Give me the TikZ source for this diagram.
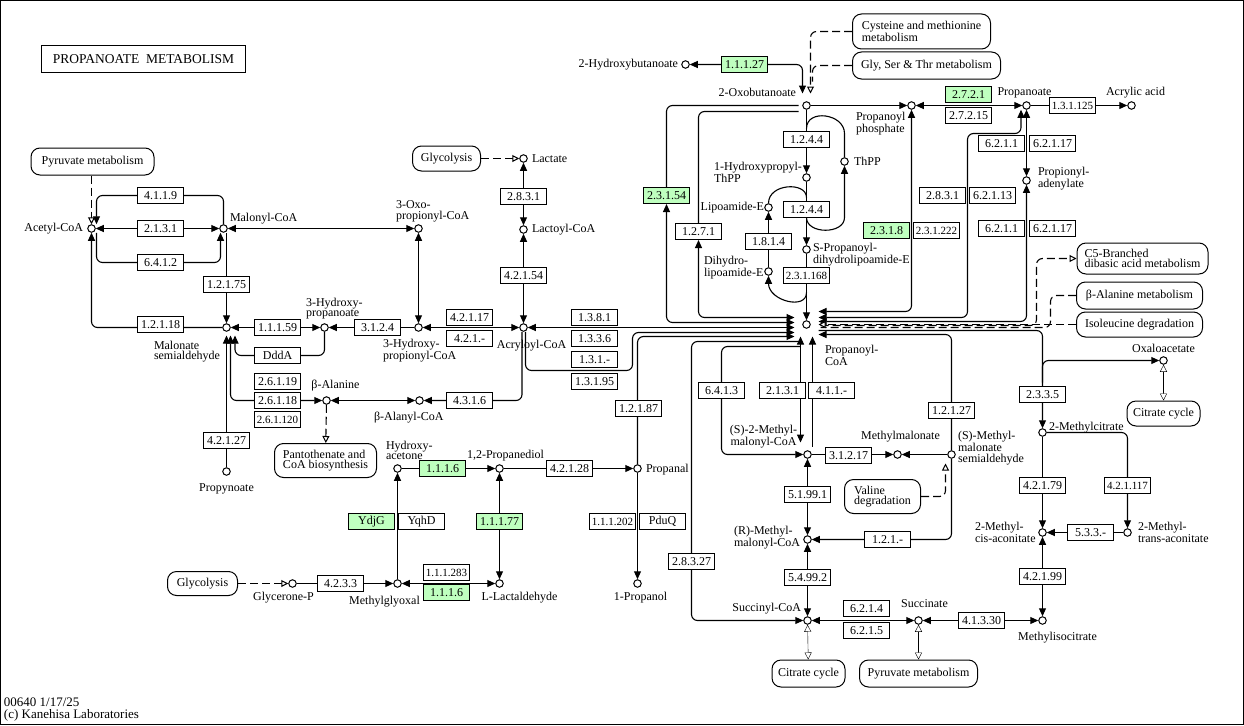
\documentclass[tikz,border=0pt]{standalone}
\usepackage{fontspec}
\setmainfont{Liberation Serif}
\usepackage{tikz}
\usetikzlibrary{arrows.meta,backgrounds,calc}
\definecolor{keggreen}{HTML}{BFFFBF}
\tikzset{
  cpd/.style={circle,draw,fill=white,minimum size=7.5pt,inner sep=0pt},
  ec/.style={draw,fill=white,minimum width=46pt,minimum height=16pt,inner sep=0pt},
  ecg/.style={ec,fill=keggreen},
  pmap/.style={draw,fill=white,rounded corners=9pt,inner sep=0pt,align=center},
  txt/.style={inner sep=0pt,align=left},
  dsh/.style={line width=1.1pt,dash pattern=on 8pt off 4pt},
  mapto/.style={dsh,-{Triangle[open,length=7pt,width=7pt,fill=white,line width=1pt]}},
  mapboth/.style={{Triangle[open,length=7pt,width=7pt,fill=white]}-{Triangle[open,length=7pt,width=7pt,fill=white]}},
  rc/.style={rounded corners=6pt,line width=1.1pt},
  arc/.style={line width=1.1pt},
  >={Triangle[length=8pt,width=7pt,line width=1pt]}
}
\begin{document}
\begin{tikzpicture}[x=1pt,y=-1pt,line width=1pt,font=\fontsize{12}{10.5}\selectfont]
\useasboundingbox (-0.5,-0.5) rectangle (1243.5,724.5);
\draw (0,0) rectangle (1243,724);
\node[draw,minimum width=204pt,minimum height=27pt,inner sep=0pt,font=\fontsize{13.5}{13}\selectfont] (title) at (143,59) {PROPANOATE\ \ METABOLISM};
\node[txt,anchor=west,font=\fontsize{13}{11.5}\selectfont] (footer) at (3,709) {00640 1/17/25\\(c) Kanehisa Laboratories};

% compounds
\node[cpd] (acetyl) at (91,228) {};
\node[cpd] (malonyl) at (223,228) {};
\node[cpd] (oxoprop) at (418,228) {};
\node[cpd] (lactate) at (523,158) {};
\node[cpd] (lactoyl) at (523,229) {};
\node[cpd] (acryloyl) at (523,327) {};
\node[cpd] (hppcoa) at (418,327) {};
\node[cpd] (hpa) at (324,327) {};
\node[cpd] (msa) at (226,327) {};
\node[cpd] (bala) at (326,400) {};
\node[cpd] (balcoa) at (419,400) {};
\node[cpd] (propynoate) at (226,471) {};
\node[cpd] (hacetone) at (397,468) {};
\node[cpd] (pdiol) at (499,468) {};
\node[cpd] (propanal) at (637,468) {};
\node[cpd] (gap) at (292,583) {};
\node[cpd] (mgo) at (397,583) {};
\node[cpd] (lald) at (499,583) {};
\node[cpd] (propanol) at (637,583) {};
\node[cpd] (hbut) at (685,64) {};
\node[cpd] (oxobut) at (806,105) {};
\node[cpd] (prphos) at (911,105) {};
\node[cpd] (propanoate) at (1026,105) {};
\node[cpd] (acrylic) at (1131,105) {};
\node[cpd] (hpthpp) at (806,177) {};
\node[cpd] (thpp) at (844,161) {};
\node[cpd] (lipoe) at (768,207) {};
\node[cpd] (spdl) at (806,249) {};
\node[cpd] (dhlipoe) at (768,271) {};
\node[cpd] (propade) at (1026,180) {};
\node[cpd] (propcoa) at (806,324) {};
\node[cpd] (smmcoa) at (807,454) {};
\node[cpd] (mmal) at (897,454) {};
\node[cpd] (mmsa) at (951,454) {};
\node[cpd] (rmmcoa) at (807,539) {};
\node[cpd] (succoa) at (807,620) {};
\node[cpd] (succ) at (918,620) {};
\node[cpd] (micit) at (1042,620) {};
\node[cpd] (oaa) at (1163,360) {};
\node[cpd] (mcit) at (1042,432) {};
\node[cpd] (mcis) at (1042,532) {};
\node[cpd] (mtrans) at (1127,532) {};

% compound names
\node[txt,anchor=east] (acetyl-t) at (83,228) {Acetyl-CoA};
\node[txt,anchor=west] (malonyl-t) at (229,218) {Malonyl-CoA};
\node[txt,anchor=west] (oxoprop-t) at (395,211) {3-Oxo-\\propionyl-CoA};
\node[txt,anchor=west] (lactate-t) at (531,158) {Lactate};
\node[txt,anchor=west] (lactoyl-t) at (531,229) {Lactoyl-CoA};
\node[txt] (acryloyl-t) at (531,345) {Acryloyl-CoA};
\node[txt,anchor=west] (hppcoa-t) at (382,350) {3-Hydroxy-\\propionyl-CoA};
\node[txt,anchor=west] (hpa-t) at (305,308) {3-Hydroxy-\\propanoate};
\node[txt,anchor=west] (msa-t) at (153,351) {Malonate\\semialdehyde};
\node[txt] (bala-t) at (335,385) {β-Alanine};
\node[txt,anchor=west] (balcoa-t) at (373,417) {β-Alanyl-CoA};
\node[txt] (propynoate-t) at (226,488) {Propynoate};
\node[txt,anchor=west] (hacetone-t) at (385,450) {Hydroxy-\\acetone};
\node[txt] (pdiol-t) at (505,455) {1,2-Propanediol};
\node[txt,anchor=west] (propanal-t) at (645,469) {Propanal};
\node[txt] (gap-t) at (283,597) {Glycerone-P};
\node[txt] (mgo-t) at (384,601) {Methylglyoxal};
\node[txt] (lald-t) at (519,597) {L-Lactaldehyde};
\node[txt] (propanol-t) at (640,597) {1-Propanol};
\node[txt,anchor=east] (hbut-t) at (678,64) {2-Hydroxybutanoate};
\node[txt,anchor=east] (oxobut-t) at (796,92) {2-Oxobutanoate};
\node[txt,anchor=west] (prphos-t) at (855,123) {Propanoyl\\phosphate};
\node[txt] (propanoate-t) at (1024,92) {Propanoate};
\node[txt] (acrylic-t) at (1135,92) {Acrylic acid};
\node[txt,anchor=west] (hpthpp-t) at (713,171.5) {1-Hydroxypropyl-\\ThPP};
\node[txt,anchor=west] (thpp-t) at (853,161) {ThPP};
\node[txt,anchor=east] (lipoe-t) at (764,207) {Lipoamide-E};
\node[txt,anchor=west] (spdl-t) at (812,254) {S-Propanoyl-\\dihydrolipoamide-E};
\node[txt,anchor=west] (dhlipoe-t) at (703,267) {Dihydro-\\lipoamide-E};
\node[txt,anchor=west] (propade-t) at (1037,178) {Propionyl-\\adenylate};
\node[txt,anchor=west] (propcoa-t) at (824,355) {Propanoyl-\\CoA};
\node[txt,align=center] (smmcoa-t) at (763,436) {(S)-2-Methyl-\\malonyl-CoA};
\node[txt] (mmal-t) at (900,436) {Methylmalonate};
\node[txt,anchor=west] (mmsa-t) at (957,447.5) {(S)-Methyl-\\malonate\\semialdehyde};
\node[txt,anchor=west] (rmmcoa-t) at (733,537) {(R)-Methyl-\\malonyl-CoA};
\node[txt,anchor=east] (succoa-t) at (801,608) {Succinyl-CoA};
\node[txt] (succ-t) at (924,603) {Succinate};
\node[txt] (micit-t) at (1057,637) {Methylisocitrate};
\node[txt] (oaa-t) at (1163,348) {Oxaloacetate};
\node[txt,anchor=west] (mcit-t) at (1048,427) {2-Methylcitrate};
\node[txt,anchor=west] (mcis-t) at (974,532) {2-Methyl-\\cis-aconitate};
\node[txt,anchor=west] (mtrans-t) at (1137,532) {2-Methyl-\\trans-aconitate};

% pathway maps
\node[pmap,minimum width=123pt,minimum height=27pt] (pyr1) at (92,161) {Pyruvate metabolism};
\node[pmap,minimum width=68pt,minimum height=25pt] (glyc1) at (446,158) {Glycolysis};
\node[pmap,align=left,minimum width=102pt,minimum height=34pt] (pant) at (325,460) {Pantothenate and\\CoA biosynthesis};
\node[pmap,minimum width=70pt,minimum height=24pt] (glyc2) at (202,583) {Glycolysis};
\node[pmap,align=left,minimum width=138pt,minimum height=35pt] (cysmet) at (921,31) {Cysteine and methionine\\metabolism};
\node[pmap,minimum width=148pt,minimum height=27pt] (glyser) at (926,65) {Gly, Ser \& Thr metabolism};
\node[pmap,align=left,minimum width=131pt,minimum height=31pt] (c5) at (1142,258) {C5-Branched\\dibasic acid metabolism};
\node[pmap,minimum width=126pt,minimum height=27pt] (balamet) at (1139,295) {β-Alanine metabolism};
\node[pmap,minimum width=126pt,minimum height=25pt] (iledeg) at (1139,324) {Isoleucine degradation};
\node[pmap,minimum width=73pt,minimum height=25pt] (tca1) at (1163,413) {Citrate cycle};
\node[pmap,align=left,minimum width=76pt,minimum height=34pt] (valdeg) at (882,496) {Valine\\degradation};
\node[pmap,minimum width=73pt,minimum height=27pt] (tca2) at (808,673) {Citrate cycle};
\node[pmap,minimum width=118pt,minimum height=27pt] (pyr2) at (918,673) {Pyruvate metabolism};

% enzymes
\node[ec] (e4119) at (160,195) {4.1.1.9};
\node[ec] (e2131a) at (160,228) {2.1.3.1};
\node[ec] (e6412) at (160,262) {6.4.1.2};
\node[ec] (e12175) at (226,284) {1.2.1.75};
\node[ec] (e12118) at (160,324) {1.2.1.18};
\node[ec] (e11159) at (277,327) {1.1.1.59};
\node[ec] (ddda) at (277,355) {DddA};
\node[ec] (e3124) at (377,327) {3.1.2.4};
\node[ec] (e26119) at (277,381) {2.6.1.19};
\node[ec] (e26118) at (277,400) {2.6.1.18};
\node[ec,font=\fontsize{11}{11}\selectfont] (e261120) at (277,419) {2.6.1.120};
\node[ec] (e42127) at (226,440) {4.2.1.27};
\node[ec] (e4316) at (469,400) {4.3.1.6};
\node[ec] (e42117) at (469,317) {4.2.1.17};
\node[ec] (e421x) at (469,338) {4.2.1.-};
\node[ec] (e2831a) at (523,196) {2.8.3.1};
\node[ec] (e42154) at (523,275) {4.2.1.54};
\node[ec] (e1381) at (594,317) {1.3.8.1};
\node[ec] (e1336) at (594,338) {1.3.3.6};
\node[ec] (e131x) at (594,359) {1.3.1.-};
\node[ec] (e13195) at (594,381) {1.3.1.95};
\node[ec] (e12187) at (638,408) {1.2.1.87};
\node[ecg] (e1116a) at (442,468) {1.1.1.6};
\node[ec] (e42128) at (569,468) {4.2.1.28};
\node[ecg] (ydjg) at (371,521) {YdjG};
\node[ec] (yqhd) at (421,521) {YqhD};
\node[ecg] (e11177) at (499,521) {1.1.1.77};
\node[ec,font=\fontsize{11}{11}\selectfont] (e111202) at (612,521) {1.1.1.202};
\node[ec] (pduq) at (662,521) {PduQ};
\node[ec] (e4233) at (340,583) {4.2.3.3};
\node[ec,font=\fontsize{11}{11}\selectfont] (e111283) at (446,572) {1.1.1.283};
\node[ecg] (e1116b) at (446,592) {1.1.1.6};
\node[ecg] (e11127) at (744,64) {1.1.1.27};
\node[ecg] (e23154) at (666,195) {2.3.1.54};
\node[ec] (e1271) at (698,231) {1.2.7.1};
\node[ec] (e1244a) at (806,139) {1.2.4.4};
\node[ec] (e1244b) at (806,209) {1.2.4.4};
\node[ec] (e1814) at (768,241) {1.8.1.4};
\node[ec,font=\fontsize{11}{11}\selectfont] (e231168) at (806,275) {2.3.1.168};
\node[ecg] (e2318) at (886,230) {2.3.1.8};
\node[ec,font=\fontsize{11}{11}\selectfont] (e231222) at (936,230) {2.3.1.222};
\node[ec] (e2831b) at (942,195) {2.8.3.1};
\node[ec] (e62113) at (992,195) {6.2.1.13};
\node[ecg] (e2721) at (968,94) {2.7.2.1};
\node[ec] (e27215) at (968,115) {2.7.2.15};
\node[ec,font=\fontsize{11}{11}\selectfont] (e131125) at (1072,105) {1.3.1.125};
\node[ec] (e6211a) at (1001,143) {6.2.1.1};
\node[ec] (e62117a) at (1052,143) {6.2.1.17};
\node[ec] (e6211b) at (1001,228) {6.2.1.1};
\node[ec] (e62117b) at (1052,228) {6.2.1.17};
\node[ec] (e6413) at (721,390) {6.4.1.3};
\node[ec] (e2131b) at (782,390) {2.1.3.1};
\node[ec] (e411x) at (831,390) {4.1.1.-};
\node[ec] (e12127) at (951,410) {1.2.1.27};
\node[ec] (e31217) at (848,455) {3.1.2.17};
\node[ec] (e51991) at (807,494) {5.1.99.1};
\node[ec] (e121x) at (887,539) {1.2.1.-};
\node[ec] (e54992) at (807,577) {5.4.99.2};
\node[ec] (e28327) at (691,561) {2.8.3.27};
\node[ec] (e6214) at (866,608) {6.2.1.4};
\node[ec] (e6215) at (866,630) {6.2.1.5};
\node[ec] (e41330) at (981,620) {4.1.3.30};
\node[ec] (e2335) at (1042,394) {2.3.3.5};
\node[ec] (e42179) at (1042,485) {4.2.1.79};
\node[ec,font=\fontsize{11}{11}\selectfont] (e421117) at (1127,485) {4.2.1.117};
\node[ec] (e533x) at (1090,532) {5.3.3.-};
\node[ec] (e42199) at (1042,576) {4.2.1.99};

\begin{scope}[on background layer]
% acetyl-CoA / malonate corner
\draw[<->] (acetyl) -- (malonyl);
\draw[rc,->] (malonyl) |- (e4119) -| ([xshift=5pt]acetyl.north);
\draw[rc,->] ([xshift=5pt]acetyl.south) |- (e6412) -| ([xshift=-3pt]malonyl.south);
\draw[mapto] (pyr1.south -| acetyl) -- (acetyl);
\draw[->] (malonyl.south -| msa) -- (msa);
\draw[rc,->] (msa) -| (acetyl);
\draw[<->] (msa) -- (hpa);
\draw[->] (hppcoa) -- (hpa);
\draw[rc,->] (hpa) |- (ddda) -| ($(msa)+(8.5,8)$);
\draw[rc,<->] (bala) -| ($(msa)+(4,8)$);
\draw[->] (propynoate) -- ($(msa)+(0,8)$);
\draw[<->] (bala) -- (balcoa);
\draw[mapto] (bala) -- (pant);
\draw[<->] (malonyl) -- (oxoprop);
\draw[<->] (oxoprop) -- (hppcoa);
\draw[<->] (acryloyl) -- (hppcoa);
\draw[rc,->] ([xshift=-1.5pt]acryloyl.south) |- (balcoa);
\draw[mapto] (glyc1) -- (lactate);
\draw[<->] (lactate) -- (lactoyl);
\draw[<->] (lactoyl) -- (acryloyl);
% into propanoyl-CoA from the left
\draw[<->] (acryloyl) -- ($(propcoa)+(-12,3)$);
\draw[rc,->] ([xshift=2pt]acryloyl.south) |- (632,370) |- ($(propcoa)+(-12,8)$);
\draw[rc,->] (propanal) |- ($(propcoa)+(-12,12)$);
\draw[rc,<->] ($(oxobut)+(-8,0)$) -| (e23154) |- ($(propcoa)+(-12,-2)$);
\draw[rc,<->] ($(oxobut)+(-8,6)$) -| (e1271) |- ($(propcoa)+(-12,-7)$);
% 2-oxobutanoate column
\draw[rc,<->] (hbut) -| ($(oxobut)+(-4,-12)$);
\draw[mapto,rc] (cysmet) -| ($(oxobut)+(4,-12)$);
\draw[dsh,rc] (glyser) -| ($(oxobut)+(6,-24)$);
\draw[->] (oxobut) -- (hpthpp);
\draw[arc] ($(oxobut)+(0,23)$) .. controls +(0,-20) and +(0,-20) .. ($(thpp)+(0,-28)$) -- (thpp);
\draw[arc,->] ($(hpthpp)+(0,40)$) .. controls +(0,17) and +(0,17) .. ($(thpp)+(0,56)$) -- (thpp);
\draw[->] (hpthpp) -- (spdl);
\draw[arc] (lipoe.north) .. controls +(0,-20) and +(0,-16) .. ($(hpthpp)+(0,20)$);
\draw[->] (spdl) -- (propcoa);
\draw[arc,->] ($(spdl)+(0,43)$) .. controls +(0,18) and +(0,25) .. (dhlipoe.south);
\draw[->] (dhlipoe) -- (lipoe);
% propanoate
\draw[->] (oxobut) -- (prphos);
\draw[<->] (prphos) -- (propanoate);
\draw[->] (propanoate) -- (acrylic);
\draw[<->] (propanoate) -- (propade);
\draw[rc,<->] ($(propcoa)+(12,-13)$) -| (prphos);
\draw[rc,<->] ($(propcoa)+(12,-7)$) -| (967,133) -| ([xshift=-5.5pt]propanoate.south);
\draw[rc,<->] ($(propcoa)+(12,-3)$) -| (propade);
\draw[mapto,rc] ($(propcoa)+(14,1)$) -| ($(c5.west)+(-40,0)$) -- (c5.west);
\draw[dsh,rc] (balamet) -| ($(propcoa)+(244,3)$) -- ($(propcoa)+(14,3)$);
\draw[mapto] (iledeg) -- ($(propcoa)+(12,0)$);
% methylcitrate cycle
\draw[rc,->] ($(propcoa)+(12,6)$) -| (mcit);
\draw[rc,->] ($(mcit)+(0,-50)$) |- (oaa);
\draw[mapboth] (oaa) -- (tca1);
\draw[->] (mcit) -- (mcis);
\draw[rc,->] (mcit) -| (mtrans);
\draw[->] (mtrans) -- (mcis);
\draw[<->] (mcis) -- (micit);
% methylmalonyl branch
\draw[rc,->] (mmsa) |- ($(propcoa)+(12,10)$);
\draw[rc,->] (mmsa) |- (rmmcoa);
\draw[->] (mmsa) -- (mmal);
\draw[->] (smmcoa) -- (mmal);
\draw[mapto,rc] (valdeg) -| ($(mmsa)+(-6,9)$);
\draw[<->] ($(propcoa)+(-6,12)$) -- ($(smmcoa)+(-7,-12)$);
\draw[->] ($(smmcoa)+(5,-8)$) -- ($(propcoa)+(6,12)$);
\draw[rc,->] ($(propcoa)+(-6,22)$) -| (e6413) |- (smmcoa);
\draw[rc,->] ($(propcoa)+(-6,17)$) -| (e28327) |- (succoa);
\draw[<->] (smmcoa) -- (rmmcoa);
\draw[<->] (rmmcoa) -- (succoa);
\draw[<->] (succoa) -- (succ);
\draw[<->] (succ) -- (micit);
\draw[mapboth] (succoa) -- (tca2);
\draw[mapboth] (succ) -- (pyr2);
% propanediol part
\draw[->] (hacetone) -- (pdiol);
\draw[->] (pdiol) -- (propanal);
\draw[->] (propanal) -- (propanol);
\draw[->] (mgo) -- (hacetone);
\draw[<->] (lald) -- (pdiol);
\draw[<->] (mgo) -- (lald);
\draw[->] (gap) -- (mgo);
\draw[mapto] (glyc2) -- (gap);
\end{scope}
\end{tikzpicture}
\end{document}
